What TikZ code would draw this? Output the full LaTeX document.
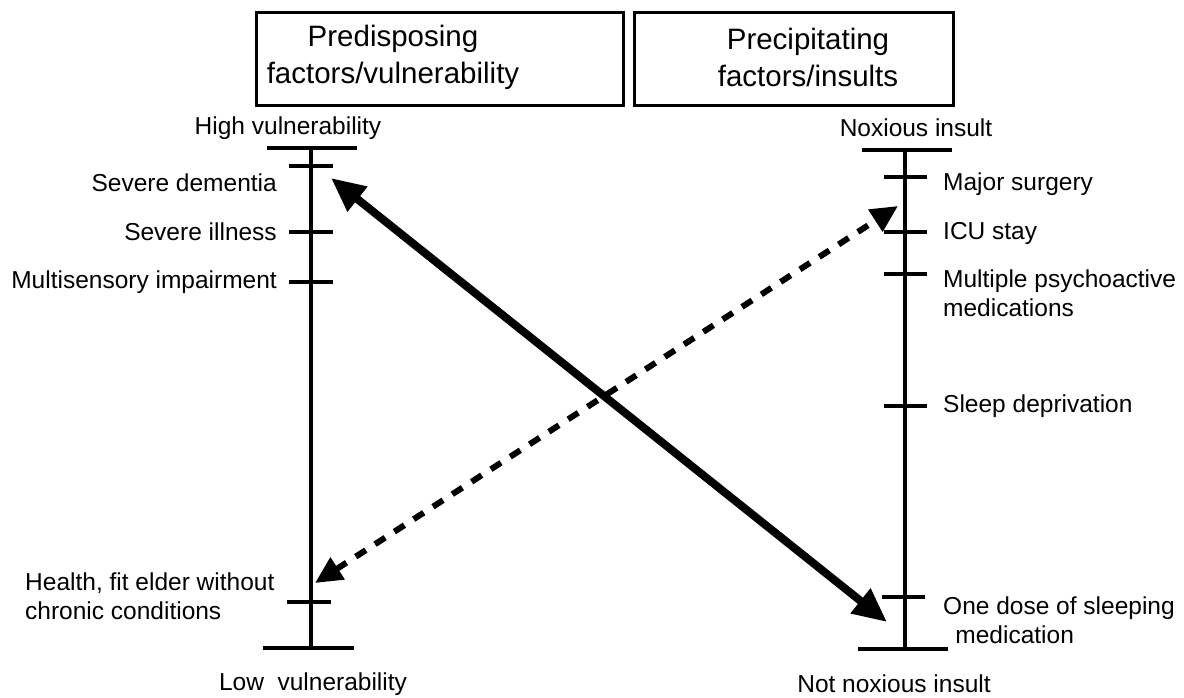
\documentclass[tikz,border=0pt]{standalone}
\usepackage{fontspec}
\setmainfont{Liberation Sans}
\usetikzlibrary{arrows.meta}
\begin{document}
\begin{tikzpicture}[x=1pt,y=-1pt,
  axisline/.style={line width=3.3pt},
  headtext/.style={font=\fontsize{29.5}{37}\selectfont,align=center},
  lbl/.style={font=\fontsize{24.5}{28.5}\selectfont,inner sep=0pt},
  solidarrow/.style={line width=8pt,{Triangle[length=34pt,width=30pt]}-{Triangle[length=34pt,width=30pt]}},
  dasharrow/.style={line width=6pt,dash pattern=on 12pt off 11pt,{Triangle[length=27pt,width=25pt]}-{Triangle[length=27pt,width=25pt]}}]
\useasboundingbox (0,0) rectangle (1184,697);
\fill[white] (0,0) rectangle (1184,697);
% header boxes
\draw[line width=3pt] (256,12) rectangle (623,105);
\draw[line width=3pt] (634,12) rectangle (953,105);
\node[headtext] (hl) at (393,57) {Predisposing\\factors/vulnerability};
\node[headtext] (hr) at (808,57) {Precipitating\\factors/insults};
% left axis
\draw[axisline] (311,148) -- (311,648);
\draw[axisline] (267,148) -- (357,148);
\draw[axisline] (263,648) -- (354,648);
\draw[axisline] (289,166) -- (333,166);
\draw[axisline] (289,232) -- (333,232);
\draw[axisline] (289,282) -- (333,282);
\draw[axisline] (287,602) -- (331,602);
\node[lbl] (hv) at (288,128) {High vulnerability};
\node[lbl,anchor=east] (sd) at (277,183) {Severe dementia};
\node[lbl,anchor=east] (si) at (277,232) {Severe illness};
\node[lbl,anchor=east] (mi) at (277,282) {Multisensory impairment};
\node[lbl,anchor=north west,align=left] (hf) at (25,573) {Health, fit elder without\\chronic conditions};
\node[lbl] (lv) at (313,684) {Low\ \ vulnerability};
% right axis
\draw[axisline] (905,150) -- (905,649);
\draw[axisline] (862,150) -- (952,150);
\draw[axisline] (858,649) -- (948,649);
\draw[axisline] (884,177) -- (927,177);
\draw[axisline] (884,232) -- (927,232);
\draw[axisline] (884,274) -- (927,274);
\draw[axisline] (884,406) -- (927,406);
\draw[axisline] (882,597) -- (925,597);
\node[lbl] (ni) at (916,128) {Noxious insult};
\node[lbl,anchor=west] (ms) at (943,184) {Major surgery};
\node[lbl,anchor=west] (icu) at (943,233) {ICU stay};
\node[lbl,anchor=north west,align=left] (mp) at (943,270) {Multiple psychoactive\\medications};
\node[lbl,anchor=west] (sdp) at (943,406) {Sleep deprivation};
\node[lbl,anchor=north west,align=left] (od) at (943,597) {One dose of sleeping\\\hspace*{0.5em}medication};
\node[lbl] (nn) at (894,684) {Not noxious insult};
% arrows
\coordinate (a1) at (331,178);
\coordinate (a2) at (887,622);
\coordinate (b1) at (315,583);
\coordinate (b2) at (898,206);
\draw[solidarrow] (a1) -- (a2);
\draw[dasharrow] (b1) -- (b2);
\end{tikzpicture}
\end{document}
